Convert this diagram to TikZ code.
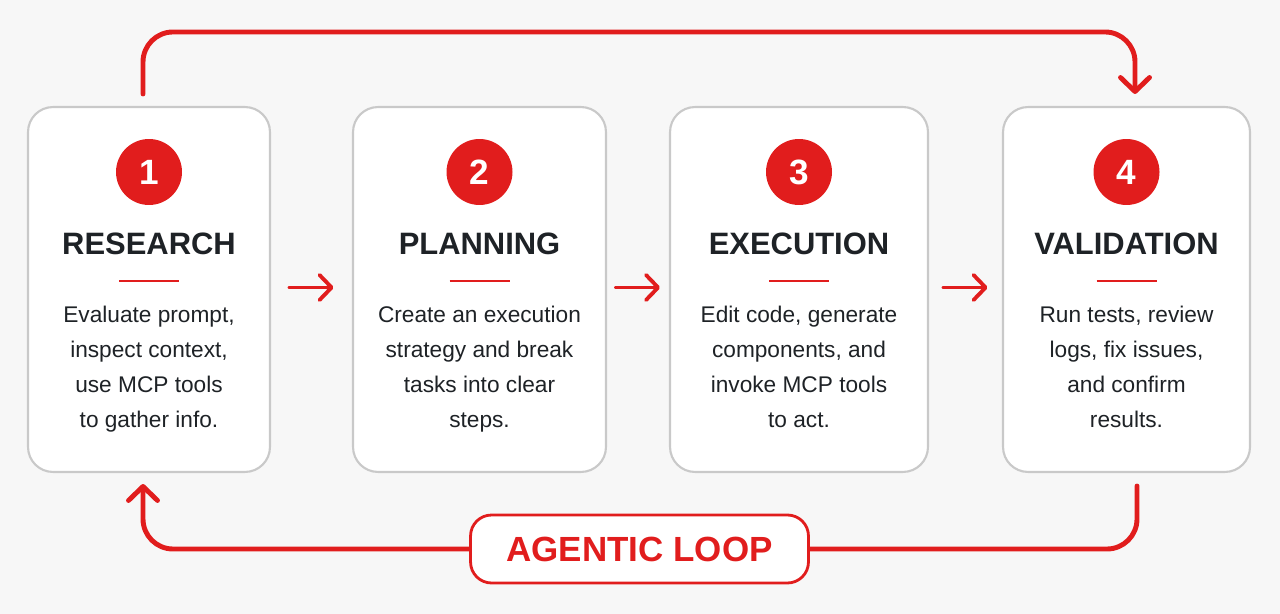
\documentclass[tikz,border=0pt]{standalone}
\usepackage{fontspec}
\setmainfont{Liberation Sans}
\usetikzlibrary{arrows.meta, positioning, calc}
\usepackage{xcolor}
\definecolor{loopred}{HTML}{E11D1D}
\definecolor{edgegray}{HTML}{C9C9C9}
\definecolor{inkdark}{HTML}{1E2226}
\definecolor{paper}{HTML}{F7F7F7}

\begin{document}
\begin{tikzpicture}[
  x=0.02cm, y=-0.02cm,
  stage/.style={rectangle, draw=edgegray, line width=1.2pt, rounded corners=0.5cm,
    fill=white, minimum height=7.3cm},
  badge/.style={circle, fill=loopred, text=white, inner sep=0pt, minimum size=1.32cm,
    font=\fontsize{20}{24}\selectfont\bfseries},
  heading/.style={anchor=base, inner sep=0pt, text=inkdark,
    font=\fontsize{17.6}{21}\selectfont\bfseries},
  rule/.style={draw=loopred, line width=1.2pt},
  desc/.style={anchor=north, inner sep=0pt, align=center, text=inkdark,
    font=\fontsize{12.9}{19.9}\selectfont},
  steparrow/.style={draw=loopred, line width=2.2pt, line cap=round,
    -{Straight Barb[length=0.24cm, width=0.5cm, round]}},
  loopline/.style={draw=loopred, line width=2.8pt, line cap=round, rounded corners=0.6cm},
  looptag/.style={rectangle, draw=loopred, line width=1.6pt, rounded corners=0.42cm,
    fill=white, minimum width=6.76cm, minimum height=1.36cm, text=loopred,
    font=\fontsize{19.9}{24}\selectfont\bfseries}
]
\useasboundingbox[fill=paper] (0,0) rectangle (1280,614);

% the four stages
\foreach \i/\cx/\bw/\stagename in {1/149/4.84cm/RESEARCH, 2/479.5/5.06cm/PLANNING,
    3/799/5.16cm/EXECUTION, 4/1126.5/4.94cm/VALIDATION}{
  \node[stage, minimum width=\bw] (box\i) at (\cx,289.5) {};
  \node[badge] (num\i) at (\cx,172) {\i};
  \node[heading] (title\i) at (\cx,255) {\stagename};
  \draw[rule] (\cx-30,281) -- (\cx+30,281);
}

\node[desc] (desc1) at (149,306) {Evaluate prompt,\\inspect context,\\use MCP tools\\to gather info.};
\node[desc] (desc2) at (479.5,306) {Create an execution\\strategy and break\\tasks into clear\\steps.};
\node[desc] (desc3) at (799,306) {Edit code, generate\\components, and\\invoke MCP tools\\to act.};
\node[desc] (desc4) at (1126.5,306) {Run tests, review\\logs, fix issues,\\and confirm\\results.};

% arrows between stages
\foreach \a/\b in {1/2, 2/3, 3/4}
  \draw[steparrow] ($(box\a.east)!0.5!(box\b.west)+(-22,-2)$) -- ++(44,0);

% loop label
\node[looptag] (loop) at (639.5,549) {AGENTIC LOOP};

% feedback loop
\draw[loopline, -{Straight Barb[length=0.28cm, width=0.58cm, round]}]
  ([xshift=-0.12cm, yshift=0.24cm]box1.north) -- ++(0,-62)
  -| ([xshift=0.17cm, yshift=0.24cm]box4.north);
\draw[loopline] ([xshift=0.21cm, yshift=-0.26cm]box4.south) |- (loop.east);
\draw[loopline, -{Straight Barb[length=0.28cm, width=0.58cm, round]}]
  (loop.west) -| ([xshift=-0.12cm, yshift=-0.22cm]box1.south);

\end{tikzpicture}
\end{document}
